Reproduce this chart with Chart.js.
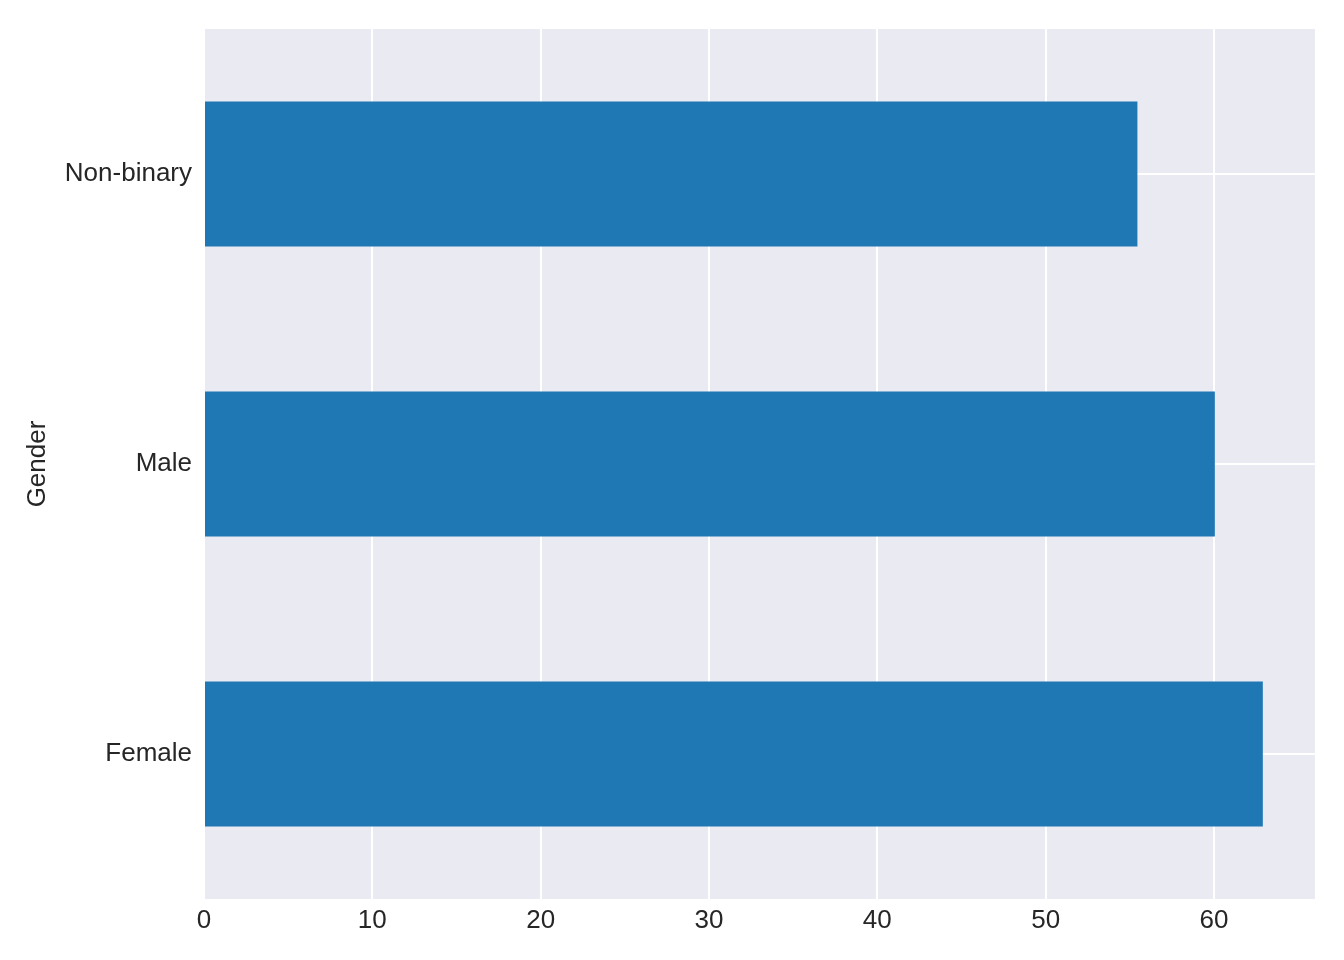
<!DOCTYPE html>
<html>
<head>
<meta charset="utf-8">
<script src="https://cdn.jsdelivr.net/npm/chart.js@4"></script>
<style>
    html, body { margin: 0; padding: 0; background: #ffffff; }
    #wrap { width: 1344px; height: 960px; }
</style>
</head>
<body>
<div id="wrap"><canvas id="myChart" width="1344" height="960"></canvas></div>
<script>
// Categories, bottom to top as in the picture
const genders = ['Female', 'Male', 'Non-binary'];
const counts = [62.9, 60.05, 55.45];
const xTicks = [0, 10, 20, 30, 40, 50, 60];
const xMax = 66;

const textColor = '#262626';
const fontFamily = '"Liberation Sans", Arial, sans-serif';

// grey panel behind the plot, seaborn style
const panelBg = {
    id: 'panelBg',
    beforeDraw(chart) {
        const a = chart.chartArea;
        const ctx = chart.ctx;
        ctx.save();
        ctx.fillStyle = '#EAEAF2';
        ctx.fillRect(a.left, a.top, a.right - a.left, a.bottom - a.top);
        ctx.restore();
    }
};

new Chart(document.getElementById('myChart'), {
    type: 'bar',
    data: {
        labels: genders,
        datasets: [{
            label: 'count',
            data: counts,
            backgroundColor: '#1F77B4',
            borderWidth: 0,
            categoryPercentage: 1.0,
            barPercentage: 0.5
        }]
    },
    options: {
        indexAxis: 'y',
        responsive: false,
        animation: false,
        layout: {
            padding: { top: 29, right: 29, bottom: 0, left: 0 }
        },
        plugins: {
            legend: { display: false },
            tooltip: { enabled: false }
        },
        scales: {
            x: {
                min: 0,
                max: xMax,
                border: { display: false },
                grid: { color: '#ffffff', lineWidth: 2, drawTicks: false },
                ticks: {
                    stepSize: 10,
                    padding: 6,
                    color: textColor,
                    font: { family: fontFamily, size: 26 }
                },
                afterBuildTicks(scale) {
                    scale.ticks = xTicks.map(v => ({ value: v }));
                },
                afterFit(scale) {
                    scale.height = 61;
                }
            },
            y: {
                reverse: true,
                border: { display: false },
                grid: { color: '#ffffff', lineWidth: 2, drawTicks: false, offset: false },
                ticks: {
                    padding: 12,
                    color: textColor,
                    font: { family: fontFamily, size: 26 }
                },
                title: {
                    display: true,
                    text: 'Gender',
                    color: textColor,
                    padding: { top: 22, bottom: 0 },
                    font: { family: fontFamily, size: 26 }
                },
                afterFit(scale) {
                    scale.width = 204;
                }
            }
        }
    },
    plugins: [panelBg]
});
</script>
</body>
</html>
